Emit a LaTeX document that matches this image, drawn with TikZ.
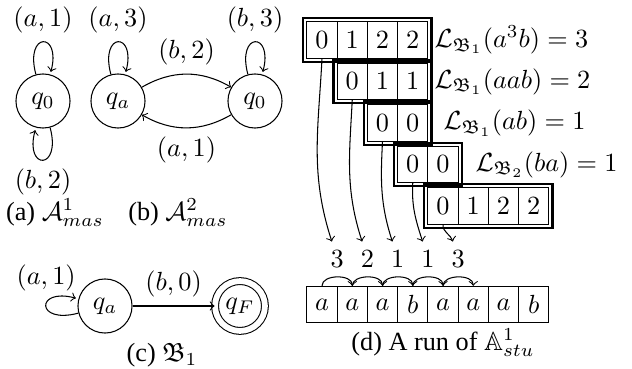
\documentclass[tikz,border=0pt]{standalone}
\usepackage{amsmath}
\usepackage{amssymb}
\usepackage{fontspec}
\setmainfont{Liberation Serif}
\usetikzlibrary{arrows,fit}

\tikzset{
  state/.style={circle,draw,minimum size=20.6pt,inner sep=0pt},
  final/.style={circle,draw,double,double distance=2.2pt,minimum size=19pt,inner sep=0pt},
  cell/.style={draw,minimum width=11.5pt,minimum height=13.8pt,inner sep=0pt},
  box/.style={draw,line width=0.9pt,inner sep=1.2pt},
  lab/.style={anchor=west,inner sep=0pt}
}

\begin{document}
\begin{tikzpicture}[x=0.381pt,y=0.381pt,>=to]
\useasboundingbox (0,0) rectangle (632,-369);

% (a) one state
\node[state] (qa0) at (43,-101) {$q_0$};
\path[->] (qa0) edge[loop above] node[above] {$(a,1)$} ()
          (qa0) edge[loop below] node[below] {$(b,2)$} ();
\node (capa) at (55,-213) {(a) $\mathcal{A}^1_{mas}$};

% (b) two states
\node[state] (qb1) at (118,-101) {$q_a$};
\node[state] (qb2) at (255,-101) {$q_0$};
\path[->] (qb1) edge[loop above] node[above] {$(a,3)$} ()
          (qb2) edge[loop above] node[above] {$(b,3)$} ()
          (qb1) edge[bend left=30] node[above] {$(b,2)$} (qb2)
          (qb2) edge[bend left=30] node[below] {$(a,1)$} (qb1);
\node (capb) at (178,-213) {(b) $\mathcal{A}^2_{mas}$};

% (c) the counter automaton
\node[state] (qc1) at (105,-306) {$q_a$};
\node[final] (qc2) at (240,-306) {$q_F$};
\path[->] (qc1) edge[loop left] node[above=2pt] {$(a,1)$} ()
          (qc1) edge node[above] {$(b,0)$} (qc2);
\node (capc) at (162,-355) {(c) $\mathfrak{B}_1$};

% (d) the word
\foreach \c [count=\i from 0] in {a,a,a,b,a,a,a,b}
  \node[cell] (w\i) at (322+30.25*\i,-304.5) {$\c$};

% (d) the rows: row / first column / y / last index / values
\foreach \r/\s/\y/\n/\vals in {1/0/40/3/{0,1,2,2}, 2/1/81.5/2/{0,1,1},
                              3/2/123/1/{0,0}, 4/3/164.5/1/{0,0}, 5/4/206/3/{0,1,2,2}} {
  \foreach \v [count=\k from 0] in \vals
    \node[cell] (r\r-\k) at (322+30.25*\s+30.25*\k,-\y) {$\v$};
  \node[box,fit=(r\r-0)(r\r-\n)] (b\r) {};
}
\node[lab] (l1) at (434,-40) {$\mathcal{L}_{\mathfrak{B}_1}(a^3b)=3$};
\node[lab] (l2) at (434,-81.5) {$\mathcal{L}_{\mathfrak{B}_1}(aab)=2$};
\node[lab] (l3) at (443,-123) {$\mathcal{L}_{\mathfrak{B}_1}(ab)=1$};
\node[lab] (l4) at (475,-164.5) {$\mathcal{L}_{\mathfrak{B}_2}(ba)=1$};

% (d) the small arcs and their values
\foreach \n [count=\i from 0] in {3,2,1,1,3} {
  \pgfmathtruncatemacro\j{\i+1}
  \draw[->] (w\i.north) to[out=90,in=90] node[above] (n\i) {$\n$} (w\j.north);
}
\foreach \r [count=\i from 0] in {1,...,5}
  \draw[->] (r\r-0.south) to[out=-93,in=108] ([xshift=-2pt]n\i.north);
\node (capd) at (443,-343) {(d) A run of $\mathbb{A}^1_{stu}$};
\end{tikzpicture}
\end{document}
